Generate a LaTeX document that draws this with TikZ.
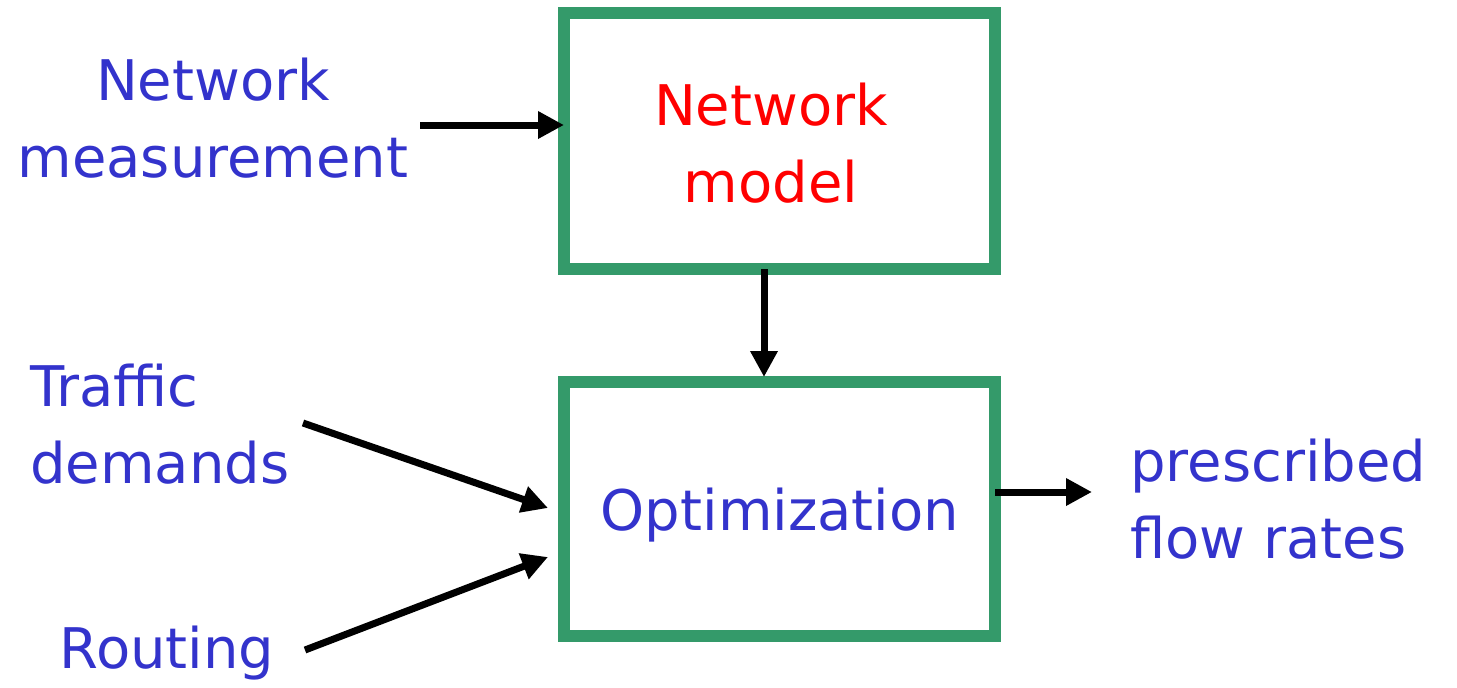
\documentclass[tikz,border=0pt]{standalone}
\usepackage{fontspec}
\setmainfont{DejaVu Sans}
\usetikzlibrary{arrows.meta}
\definecolor{labelblue}{RGB}{51,51,204}
\definecolor{boxgreen}{RGB}{52,154,106}
\definecolor{modelred}{RGB}{255,0,0}
\begin{document}
\begin{tikzpicture}[x=0.5pt,y=-0.5pt,
  block/.style={draw=boxgreen, line width=6pt, fill=white, inner sep=0pt, outer sep=0pt},
  label/.style={text=labelblue, inner sep=0pt, font=\fontsize{28}{38.5}\selectfont},
  arr/.style={line width=3.5pt, -{Triangle[length=13pt,width=13pt]}}]
  \useasboundingbox (0,0) rectangle (1457,687);

  % the two processing blocks
  \node[block, minimum width=215.5pt, minimum height=128pt] (model) at (779.5,141) {};
  \node[block, minimum width=215.5pt, minimum height=127pt] (opt) at (779.5,509) {};

  % block captions (base = baseline of the last line)
  \node[inner sep=0pt, text=modelred, align=center, anchor=base,
        font=\fontsize{28}{38.5}\selectfont] (modeltxt) at (771,202) {Network\\model};
  \node[label, anchor=base] (opttxt) at (780,530) {Optimization};

  % inputs and output
  \node[label, align=center, anchor=base] (meas) at (213,177) {Network\\measurement};
  \node[label, align=left, anchor=base west] (traffic) at (30,483) {Traffic\\demands};
  \node[label, anchor=base] (routing) at (167,668) {Routing};
  \node[label, align=left, anchor=base west] (rates) at (1130,558) {prescribed\\flow rates};

  % free ends of the connectors
  \coordinate (measend) at (420,125);
  \coordinate (trafficend) at (303,423);
  \coordinate (routingend) at (305,650);
  \coordinate (ratesend) at (1092,492);

  % connectors
  \draw[arr] (measend) -- ([yshift=8pt]model.west);
  \draw[arr] ([xshift=-7.75pt]model.south) -- ([xshift=-7.75pt,yshift=2.5pt]opt.north);
  \draw[arr] (trafficend) -- ([xshift=-8pt,yshift=0.5pt]opt.west);
  \draw[arr] (routingend) -- ([xshift=-8pt,yshift=-24pt]opt.west);
  \draw[arr] ([yshift=8.5pt]opt.east) -- (ratesend);
\end{tikzpicture}
\end{document}
